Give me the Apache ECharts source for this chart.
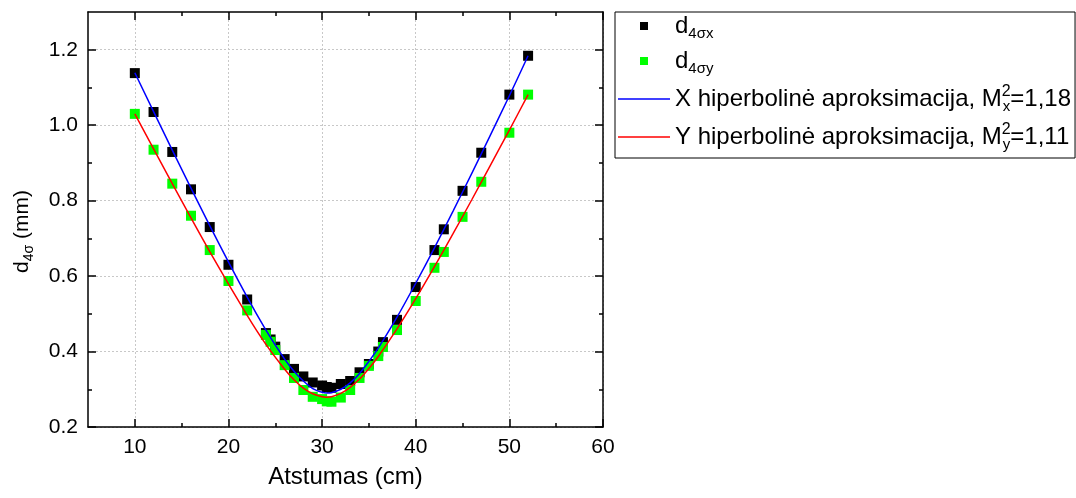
<!DOCTYPE html>
<html><head><meta charset="utf-8">
<script src="https://cdn.jsdelivr.net/npm/echarts@6/dist/echarts.min.js"></script>
<style>html,body{margin:0;padding:0;background:#fff}#c{width:1076px;height:498px}</style>
</head><body><div id="c"></div>
<script>
// ---- data ----
const distances = [10,12,14,16,18,20,22,24,24.5,25,26,27,28,29,30,30.5,31,32,33,34,35,36,36.5,38,40,42,43,45,47,50,52];
const d4sx = [1.138,1.035,0.929,0.830,0.730,0.630,0.538,0.449,0.432,0.413,0.380,0.354,0.334,0.318,0.310,0.306,0.304,0.314,0.322,0.345,0.367,0.400,0.425,0.484,0.571,0.669,0.724,0.826,0.927,1.081,1.184];
const d4sy = [1.030,0.935,0.845,0.760,0.669,0.587,0.509,0.444,0.426,0.404,0.364,0.330,0.298,0.280,0.274,0.268,0.267,0.278,0.298,0.330,0.362,0.388,0.412,0.457,0.534,0.622,0.664,0.757,0.850,0.980,1.081];
const fitZ = [10,14,18,22,24,26,27,28,29,30,30.5,31,32,33,34,35,36,38,40,42,44,46,48,50,52];
const fitXvals = [1.139,0.934,0.734,0.544,0.457,0.380,0.348,0.322,0.302,0.292,0.290,0.291,0.300,0.317,0.342,0.374,0.409,0.491,0.581,0.675,0.773,0.873,0.975,1.078,1.184];
const fitYvals = [1.030,0.845,0.665,0.496,0.419,0.353,0.325,0.303,0.288,0.280,0.279,0.280,0.289,0.305,0.327,0.355,0.387,0.460,0.540,0.625,0.713,0.803,0.895,0.987,1.081];
const xMajorTicks = [10,20,30,40,50,60];
const xMinorTicks = [15,25,35,45,55];
const yMajorTicks = [0.2,0.4,0.6,0.8,1.0,1.2];
const yMinorTicks = [0.3,0.5,0.7,0.9,1.1];
const seriesNames = ['d4σx','d4σy','X hiperbolinė aproksimacija, M²x=1,18','Y hiperbolinė aproksimacija, M²y=1,11'];
const legendRich = [
  '{m|d}{s|4σx}',
  '{m|d}{s|4σy}',
  '{m|X hiperbolinė aproksimacija, M}{sup|2}{s|x}{m|=1,18}',
  '{m|Y hiperbolinė aproksimacija, M}{sup|2}{s|y}{m|=1,11}'
];

const FF = 'Liberation Sans, Arial, sans-serif';
const pair = (xs, ys) => xs.map((x, i) => [x, ys[i]]);

function xAx(pos, ticks, len, main) {
  return {
    type: 'value', position: pos, min: 5, max: 60, interval: 5, gridIndex: 0,
    axisLine: {show: main, onZero: false, lineStyle: {color: '#000', width: 1.5}},
    axisTick: {show: true, inside: true, length: len, customValues: ticks, lineStyle: {color: '#000', width: 1.5}},
    axisLabel: (main && pos === 'bottom') ? {show: true, customValues: xMajorTicks, fontSize: 21, color: '#000', fontFamily: FF, margin: 10} : {show: false},
    splitLine: (main && pos === 'bottom') ? {show: true, lineStyle: {color: '#c8c8c8', type: [2, 2], width: 1}} : {show: false},
    name: (main && pos === 'bottom') ? 'Atstumas (cm)' : '',
    nameLocation: 'middle', nameGap: 38,
    nameTextStyle: {fontSize: 24, color: '#000', fontFamily: FF}
  };
}
function yAx(pos, ticks, len, main) {
  return {
    type: 'value', position: pos, min: 0.2, max: 1.3, interval: 0.1, gridIndex: 0,
    axisLine: {show: main, onZero: false, lineStyle: {color: '#000', width: 1.5}},
    axisTick: {show: true, inside: true, length: len, customValues: ticks, lineStyle: {color: '#000', width: 1.5}},
    axisLabel: (main && pos === 'left') ? {show: true, customValues: yMajorTicks, fontSize: 21, color: '#000', fontFamily: FF, margin: 10, formatter: v => v.toFixed(1)} : {show: false},
    splitLine: (main && pos === 'left') ? {show: true, lineStyle: {color: '#c8c8c8', type: [2, 2], width: 1}} : {show: false},
    name: (main && pos === 'left') ? '{m|d}{s|4σ}{m| (mm)}' : '',
    nameLocation: 'middle', nameGap: 52, nameRotate: 90,
    nameTextStyle: {color: '#000', fontFamily: FF, padding: [0, 24, 0, 0], rich: {
      m: {fontSize: 21, lineHeight: 28, fontFamily: FF, color: '#000'},
      s: {fontSize: 14, lineHeight: 14, verticalAlign: 'bottom', fontFamily: FF, color: '#000'}
    }}
  };
}

const SQUARE = 'path://M0,0H10V10H0Z';
const LINE = 'path://M0,0H52V1.5H0Z';

const chart = echarts.init(document.getElementById('c'), null, {renderer: 'canvas'});
chart.setOption({
  animation: false,
  backgroundColor: '#fff',
  grid: {left: 88, right: 473, top: 12, bottom: 71, containLabel: false},
  xAxis: [xAx('bottom', xMajorTicks, 8, true), xAx('bottom', xMinorTicks, 4, false), xAx('top', xMajorTicks, 8, true), xAx('top', xMinorTicks, 4, false)],
  yAxis: [yAx('left', yMajorTicks, 8, true), yAx('left', yMinorTicks, 4, false), yAx('right', yMajorTicks, 8, true), yAx('right', yMinorTicks, 4, false)],
  legend: {
    orient: 'vertical', left: 615, top: 12,
    padding: [2, 4, 6, 3], itemGap: 8, itemWidth: 52, itemHeight: 8,
    borderColor: '#000', borderWidth: 1, backgroundColor: '#fff',
    symbolKeepAspect: true,
    data: [
      {name: seriesNames[0], icon: SQUARE, itemStyle: {color: '#000', opacity: 1}},
      {name: seriesNames[1], icon: SQUARE, itemStyle: {color: '#00ff00', opacity: 1}},
      {name: seriesNames[2], icon: LINE, itemStyle: {color: '#0000ff', opacity: 1}},
      {name: seriesNames[3], icon: LINE, itemStyle: {color: '#ff0000', opacity: 1}}
    ],
    formatter: name => legendRich[seriesNames.indexOf(name)],
    textStyle: {fontFamily: FF, color: '#000', rich: {
      m: {fontSize: 24, lineHeight: 30, fontFamily: FF, color: '#000'},
      s: {fontSize: 15, lineHeight: 15, verticalAlign: 'bottom', fontFamily: FF, color: '#000'},
      sup: {fontSize: 16, lineHeight: 16, verticalAlign: 'top', width: 1, fontFamily: FF, color: '#000'}
    }}
  },
  series: [
    {name: seriesNames[0], type: 'scatter', xAxisIndex: 0, yAxisIndex: 0, symbol: 'rect', symbolSize: 10,
     itemStyle: {color: '#000', opacity: 1}, data: pair(distances, d4sx), z: 2},
    {name: seriesNames[1], type: 'scatter', xAxisIndex: 0, yAxisIndex: 0, symbol: 'rect', symbolSize: 10,
     itemStyle: {color: '#00ff00', opacity: 1}, data: pair(distances, d4sy), z: 3},
    {name: seriesNames[2], type: 'line', xAxisIndex: 0, yAxisIndex: 0, symbol: 'none', smooth: 0.3,
     lineStyle: {color: '#0000ff', width: 1.5}, itemStyle: {color: '#0000ff'}, data: pair(fitZ, fitXvals), z: 4},
    {name: seriesNames[3], type: 'line', xAxisIndex: 0, yAxisIndex: 0, symbol: 'none', smooth: 0.3,
     lineStyle: {color: '#ff0000', width: 1.5}, itemStyle: {color: '#ff0000'}, data: pair(fitZ, fitYvals), z: 5}
  ]
});
</script></body></html>
